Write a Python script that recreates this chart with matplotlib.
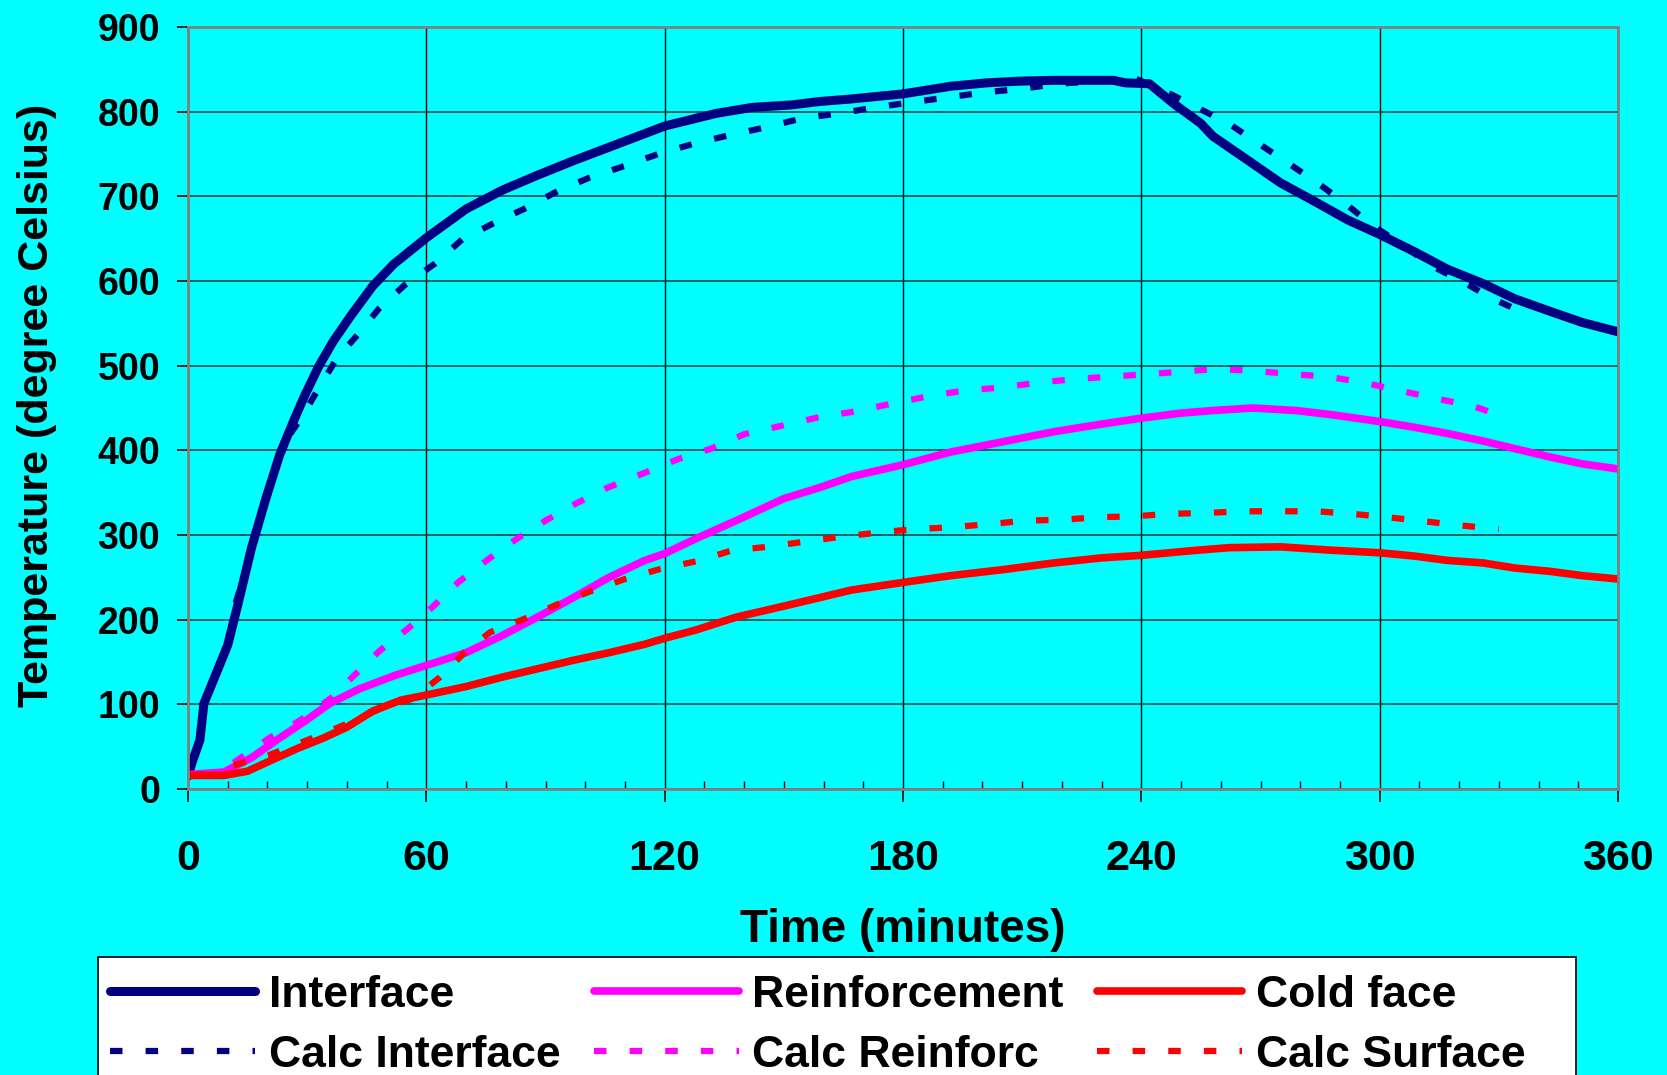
import matplotlib
matplotlib.use("Agg")
import matplotlib.pyplot as plt
from matplotlib.patches import Rectangle
from matplotlib.ticker import MultipleLocator

# measured series (time in minutes, temperature in degC)
interface_t = [0, 1, 3, 4, 7.4, 10, 12.4, 16, 19.6, 23.1, 26.7, 29.4, 33, 36.6, 41, 46.5, 51.8, 60,
               70, 79, 88, 97, 106, 120, 133, 142, 152, 159, 167, 180, 192, 201, 209, 218, 233, 236,
               242, 248, 255, 258, 267, 275, 284, 292, 300, 309, 317, 326, 334, 343, 351, 360]
interface_T = [15, 31, 58, 101, 140, 170, 215, 285, 343, 395, 436, 465, 500, 529, 559, 594, 620, 651,
               685, 707, 725, 742, 758, 783, 798, 805, 808, 812, 815, 821, 830, 834, 836, 837, 837, 834,
               833, 810, 786, 771, 742, 716, 693, 672, 655, 634, 614, 597, 579, 564, 551, 540]

reinf_t = [0, 9, 16, 23, 29.4, 35.7, 43, 52, 60, 70, 79, 88, 97, 106, 115, 120, 128, 138, 150, 159,
           167, 180, 192, 205, 218, 230, 240, 250, 258, 268, 279, 288, 300, 309, 317, 326, 334, 343,
           351, 360]
reinf_T = [17, 20, 37, 60, 80, 101, 118, 134, 146, 161, 181, 203, 226, 250, 270, 278, 296, 317, 343,
           356, 369, 383, 398, 410, 422, 431, 438, 444, 447, 450, 447, 442, 434, 427, 420, 411, 402,
           392, 384, 378]

cold_t = [0, 9, 15, 21, 27.6, 34, 40, 46.5, 53.6, 60, 70, 79, 88, 97, 106, 115, 120, 128, 138, 150,
          159, 167, 180, 192, 205, 218, 230, 240, 254, 262, 275, 288, 300, 309, 317, 326, 334, 343,
          351, 360]
cold_T = [16, 16, 21, 34, 48, 60, 73, 92, 105, 111, 121, 132, 142, 152, 161, 171, 178, 188, 203, 216,
          226, 235, 244, 252, 259, 267, 273, 276, 282, 285, 286, 282, 279, 275, 270, 267, 261, 257,
          252, 248]

# calculated series
calc_int_t = [12, 15, 19, 24, 29, 33, 37.5, 43, 48, 54.5, 62, 69, 76, 85, 93, 101, 110, 119, 128,
              137, 145, 154.5, 164, 173, 182, 191.5, 201, 210, 219, 229, 238, 246, 254, 262, 269,
              277, 284, 291, 298, 306, 313, 321, 328, 336]
calc_int_T = [220, 265, 330, 407, 442, 474, 509, 538, 567, 595, 620, 649, 666, 686, 706, 722, 736,
              751, 763, 773, 781, 792, 798, 805, 811, 817, 823, 827, 833, 836, 840, 824, 805, 786,
              764, 739, 717, 693, 666, 642, 618, 599, 580, 563]

calc_reinf_t = [11.5, 20.4, 28.2, 36.2, 42, 48.2, 55, 61.8, 68, 75.2, 82.3, 90, 97.6, 105.7, 114.2,
                123.6, 131.7, 140, 149.4, 158.7, 168, 177, 186.5, 196, 204.6, 214, 223, 232, 242,
                250, 259, 268, 278, 287, 296, 305.6, 314.4, 323.7, 332.2]
calc_reinf_T = [31, 60, 81, 108, 135, 163, 188, 216, 244, 270, 294, 317, 337, 356, 372, 390, 402, 419,
                429, 439, 446, 455, 464, 471, 474, 480, 484, 487, 490, 493, 496, 494, 490, 487, 480,
                470, 461, 452, 438]

calc_surf_t = [11.5, 20.4, 30.7, 39, 47.5, 56.7, 63.4, 69.6, 76, 84.7, 93, 101, 110, 119, 129, 137,
               146, 155, 164.6, 174, 183, 192, 202, 211, 220, 229, 238, 247, 256, 265.5, 275, 284,
               293, 302, 311.5, 321, 330]
calc_surf_T = [28, 40, 59, 75, 93, 107, 132, 161, 185, 201, 218, 233, 248, 260, 270, 282, 286, 292,
               298, 303, 307, 309, 313, 317, 318, 321, 322, 325, 326, 328, 328, 328, 325, 321, 316,
               311, 307]

x_ticks = [0, 60, 120, 180, 240, 300, 360]
y_ticks = [0, 100, 200, 300, 400, 500, 600, 700, 800, 900]

NAVY = "#000080"
MAGENTA = "#FF00FF"
RED = "#FF0000"
CYAN = "#00FFFF"
FONT = "Liberation Sans"

fig = plt.figure(figsize=(16.67, 10.75), dpi=100, facecolor=CYAN)
ax = fig.add_axes([0.11278, 0.26605, 0.85783, 0.70884])
ax.set_facecolor(CYAN)

solid = dict(solid_capstyle="round", solid_joinstyle="round")
dashed = dict(linewidth=4.5, dashes=(2.0, 3.7), dash_capstyle="butt")

h1, = ax.plot(interface_t, interface_T, color=NAVY, linewidth=6.5, label="Interface", **solid)
h2, = ax.plot(reinf_t, reinf_T, color=MAGENTA, linewidth=5.5, label="Reinforcement", **solid)
h3, = ax.plot(cold_t, cold_T, color=RED, linewidth=5.5, label="Cold face", **solid)
h4, = ax.plot(calc_int_t, calc_int_T, color=NAVY, label="Calc Interface", **dashed)
h5, = ax.plot(calc_reinf_t, calc_reinf_T, color=MAGENTA, label="Calc Reinforc", **dashed)
h6, = ax.plot(calc_surf_t, calc_surf_T, color=RED, label="Calc Surface", **dashed)

ax.set_xlim(0, 360)
ax.set_ylim(0, 900)
ax.set_xticks(x_ticks)
ax.set_yticks(y_ticks)
ax.xaxis.set_minor_locator(MultipleLocator(10))

ax.grid(axis="x", which="major", color="black", linewidth=1.0)
ax.grid(axis="y", which="major", color="#104848", linewidth=1.2)
ax.set_axisbelow(True)

for s in ax.spines.values():
    s.set_color("#808080")
    s.set_linewidth(2)

ax.tick_params(axis="x", which="major", direction="out", length=9, width=1.2, color="black", pad=27)
ax.tick_params(axis="x", which="minor", direction="in", length=6, width=1.0, color="black")
ax.tick_params(axis="y", which="major", direction="out", length=8, width=1.2, color="black", pad=12)

for lbl in ax.get_xticklabels():
    lbl.set_fontfamily(FONT)
    lbl.set_fontweight("bold")
    lbl.set_fontsize(31)
for lbl in ax.get_yticklabels():
    lbl.set_fontfamily(FONT)
    lbl.set_fontweight("bold")
    lbl.set_fontsize(27)

ax.set_xlabel("Time (minutes)", fontfamily=FONT, fontweight="bold", fontsize=33, va="center")
ax.xaxis.set_label_coords(0.5, -0.185)
ax.set_ylabel("Temperature (degree Celsius)", fontfamily=FONT, fontweight="bold", fontsize=31,
              va="center")
ax.yaxis.set_label_coords(-0.1056, 0.503)

# legend box (runs off the bottom edge like the original)
fig.patches.append(Rectangle((98 / 1667, -0.05), (1576 - 98) / 1667, 0.05 + (1075 - 957) / 1075,
                             transform=fig.transFigure, facecolor="white", edgecolor="black",
                             linewidth=1.2, zorder=0))

leg = fig.legend(handles=[h1, h4, h2, h5, h3, h6], ncol=3, loc="upper left",
                 bbox_to_anchor=(110 / 1667, 1 - 975 / 1075), frameon=False, borderpad=0,
                 borderaxespad=0, handlelength=3.27, handletextpad=0.3, columnspacing=0.75,
                 labelspacing=0.42, prop={"family": FONT, "weight": "bold", "size": 32})

fig.savefig("out.png", dpi=100, facecolor=CYAN)
